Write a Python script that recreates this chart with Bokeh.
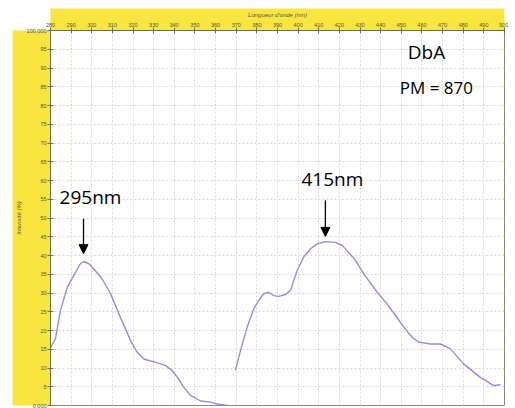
from bokeh.plotting import figure
from bokeh.models import Label, Arrow, NormalHead, FixedTicker, Range1d
from bokeh.embed import file_html
from bokeh.resources import INLINE

# ---- data ----
wl_1 = [279.7, 282.4, 284.8, 288.1, 292.1, 294.5, 296.1, 298.6, 301.0, 305.0, 309.1,
        313.9, 318.8, 322.0, 325.2, 330.9, 335.7, 339.0, 341.4, 344.6, 347.8, 352.7,
        357.5, 360.8, 365.6, 368.6]
int_1 = [15.1, 17.8, 25.3, 31.5, 35.5, 37.8, 38.4, 37.8, 36.4, 33.8, 29.8,
         23.5, 17.3, 14.2, 12.4, 11.5, 10.7, 9.3, 7.6, 4.9, 2.7, 1.2,
         0.9, 0.4, 0.0, -0.3]
wl_2 = [369.6, 372.1, 375.3, 378.5, 380.9, 383.3, 385.8, 388.2, 390.6, 393.9, 396.3,
        399.5, 402.7, 406.0, 409.2, 413.2, 418.1, 421.3, 423.7, 427.8, 431.8, 438.3,
        443.1, 447.2, 451.2, 455.2, 458.4, 464.1, 468.9, 473.8, 480.2, 488.3, 494.8, 498.0]
int_2 = [9.3, 14.7, 20.9, 25.8, 28.0, 29.8, 30.2, 29.3, 29.1, 29.6, 30.7,
         36.0, 39.6, 41.8, 43.1, 43.7, 43.5, 42.7, 41.3, 38.7, 35.1, 30.2,
         27.1, 24.0, 20.9, 18.2, 16.9, 16.4, 16.4, 15.1, 11.1, 7.5, 5.3, 5.6]
x_ticks = [280, 290, 300, 310, 320, 330, 340, 350, 360, 370, 380, 390, 400, 410, 420,
           430, 440, 450, 460, 470, 480, 490, 500]
y_ticks = [0, 5, 10, 15, 20, 25, 30, 35, 40, 45, 50, 55, 60, 65, 70, 75, 80, 85, 90, 95, 100]
x_end_labels = {280: "280", 500: "500"}
y_end_labels = {0: "0,000", 100: "100,000"}
peaks = [(296.0, "295nm"), (413.2, "415nm")]

YELLOW = "#f8e540"
DARK = "#6e6e48"
FONT = "Open Sans"

p = figure(width=508, height=408, output_backend="svg", toolbar_location=None,
           x_axis_location="above", x_range=Range1d(280, 500), y_range=Range1d(0, 100),
           min_border_left=50, min_border_right=4, min_border_top=30, min_border_bottom=3)
p.border_fill_color = "white"
p.background_fill_color = "white"
p.outline_line_color = "#8a8a70"

for ax in (p.xaxis[0], p.yaxis[0]):
    ax.background_fill_color = YELLOW
    ax.axis_line_color = DARK
    ax.major_tick_line_color = DARK
    ax.minor_tick_line_color = None
    ax.major_tick_in = 3
    ax.major_tick_out = 3
    ax.major_label_text_font_size = "5.5px"
    ax.major_label_text_color = "#555530"
    ax.major_label_standoff = 1
    ax.axis_label_text_font_size = "6px"
    ax.axis_label_text_font_style = "italic"
    ax.axis_label_text_color = "#555530"

p.xaxis.axis_label_standoff = 2
p.yaxis.axis_label_standoff = 2
p.xaxis.ticker = FixedTicker(ticks=x_ticks)
p.yaxis.ticker = FixedTicker(ticks=y_ticks)
p.xaxis.major_label_overrides = x_end_labels
p.yaxis.major_label_overrides = y_end_labels
p.xaxis.axis_label = "Longueur d'onde (nm)"
p.yaxis.axis_label = "Intensité (%)"

p.xgrid.ticker = FixedTicker(ticks=x_ticks[1:-1])
p.ygrid.ticker = FixedTicker(ticks=y_ticks[1:-1])
for g in (p.xgrid[0], p.ygrid[0]):
    g.grid_line_color = "#d6d6d6"
    g.grid_line_dash = "2 2"
    g.grid_line_width = 1

p.line(wl_1, int_1, line_color="#8e8ee4", line_width=1.4)
p.line(wl_2, int_2, line_color="#8e8ee4", line_width=1.4)

# peak annotations
p.add_layout(Arrow(end=NormalHead(size=9, fill_color="black", line_color="black"),
                   x_start=peaks[0][0], y_start=49.8, x_end=peaks[0][0], y_end=40.5,
                   line_width=1.3, line_color="black"))
p.add_layout(Arrow(end=NormalHead(size=9, fill_color="black", line_color="black"),
                   x_start=peaks[1][0], y_start=54.7, x_end=peaks[1][0], y_end=45.1,
                   line_width=1.3, line_color="black"))
p.add_layout(Label(x=299.4, y=52.2, text=peaks[0][1], text_font=FONT,
                   text_font_size="19px", text_align="center", text_color="black"))
p.add_layout(Label(x=416.6, y=56.9, text=peaks[1][1], text_font=FONT,
                   text_font_size="19px", text_align="center", text_color="black"))
p.add_layout(Label(x=462.2, y=90.7, text="DbA", text_font=FONT,
                   text_font_size="19px", text_align="center", text_color="black"))
p.add_layout(Label(x=467.0, y=81.8, text="PM = 870", text_font=FONT,
                   text_font_size="17px", text_align="center", text_color="black"))

open("out.html", "w").write(file_html(p, INLINE))
